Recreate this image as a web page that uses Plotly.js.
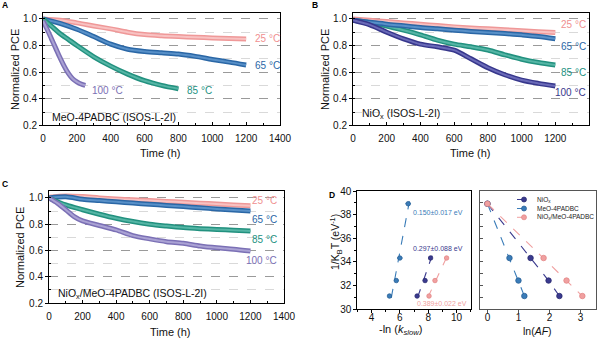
<!DOCTYPE html>
<html><head><meta charset="utf-8">
<script src="https://cdn.plot.ly/plotly-3.0.1.min.js"></script>
<style>html,body{margin:0;padding:0;background:#fff}#c{width:600px;height:339px}</style>
</head><body><div id="c"></div>
<script>
// ---------- data ----------
// Panel A : MeO-4PADBC
const A_t = [0,100,200,300,400,500,600,700,800,900,1000,1100,1200];
const A_25 = [1.0,0.99,0.97,0.947,0.925,0.9,0.882,0.873,0.867,0.862,0.857,0.853,0.848];
const A_65 = [1.0,0.967,0.922,0.867,0.81,0.772,0.755,0.745,0.736,0.718,0.695,0.675,0.653];
const A_t85 = [0,50,100,150,200,300,400,500,600,700,800];
const A_85 = [1.0,0.945,0.89,0.845,0.80,0.715,0.645,0.585,0.535,0.50,0.474];
const A_t100 = [0,25,50,75,100,125,150,175,200,225,250];
const A_100 = [0.985,0.92,0.85,0.78,0.71,0.645,0.59,0.55,0.527,0.51,0.50];
// Panel B : NiOx
const B_t = [0,100,200,300,400,500,600,700,800,900,1000,1100,1200];
const B_25 = [1.0,0.99,0.98,0.97,0.96,0.95,0.94,0.932,0.925,0.918,0.91,0.903,0.897];
const B_65 = [0.99,0.975,0.96,0.948,0.935,0.925,0.915,0.906,0.898,0.89,0.88,0.868,0.85];
const B_85 = [0.99,0.972,0.947,0.915,0.88,0.84,0.81,0.79,0.766,0.73,0.697,0.672,0.653];
const B_100 = [0.99,0.955,0.90,0.85,0.81,0.79,0.765,0.70,0.633,0.58,0.54,0.515,0.495];
// Panel C : NiOx/MeO-4PADBC
const C_t = [0,100,200,300,400,500,600,700,800,900,1000,1100,1200];
const C_25 = [1.005,1.015,1.01,1.0,0.992,0.986,0.98,0.973,0.967,0.96,0.954,0.947,0.94];
const C_65 = [1.0,1.008,0.99,0.98,0.97,0.961,0.952,0.943,0.934,0.925,0.916,0.908,0.9];
const C_85 = [1.0,0.947,0.91,0.876,0.845,0.82,0.80,0.786,0.774,0.766,0.76,0.754,0.748];
const C_t100 = [0,50,100,150,200,300,400,500,600,700,800,900,1000,1100,1200];
const C_100 = [1.0,0.96,0.91,0.858,0.825,0.79,0.756,0.713,0.688,0.667,0.655,0.634,0.62,0.61,0.596];
// Panel D
const invKT = [38.92,34.32,32.41,31.10];      // 25, 65, 85, 100 °C
const lnk_MeO = [6.59,6.0,5.75,5.27];
const lnk_MeO_err = [0.2,0.2,0.16,0.1];
const invKT3 = [34.32,32.41,31.10];           // 65, 85, 100 °C
const lnk_NiO = [8.17,7.78,7.22];
const lnk_Both = [9.3,8.48,8.06];
const lnAF_NiO = [0,1.39,1.97,2.32];
const lnAF_MeO = [0,0.71,1.0,1.19];
const lnAF_Both = [0,1.81,2.55,3.06];
const Ea_labels = ['0.150±0.017 eV','0.297±0.088 eV','0.389±0.022 eV'];
const tempLabels = ['25 °C','65 °C','85 °C','100 °C'];
const legendNames = ['NiO<sub>x</sub>','MeO-4PADBC','NiO<sub>x</sub>/MeO-4PADBC'];

// ---------- styles ----------
const F = 'Arial, "Liberation Sans", sans-serif';
const COL = {
  pink:{o:'#ef9898',i:'#f8c2c2',t:'#f09090'},
  blue:{o:'#2a67a6',i:'#5890c8',t:'#2a67a6'},
  teal:{o:'#22917f',i:'#55b5a5',t:'#22917f'},
  lav:{o:'#7b70b5',i:'#aaa2d4',t:'#7b70b5'},
  navy:{o:'#37378c',i:'#6a6ab8',t:'#37378c'}
};
const traces = [];
function tube(x,y,c,xa,ya){
  traces.push({x:x,y:y,xaxis:xa,yaxis:ya,mode:'lines',line:{color:c.o,width:5,shape:'spline',smoothing:0.8},showlegend:false,hoverinfo:'skip'});
  traces.push({x:x,y:y,xaxis:xa,yaxis:ya,mode:'lines',line:{color:c.i,width:2,shape:'spline',smoothing:0.8},showlegend:false,hoverinfo:'skip'});
}
tube(A_t,A_25,COL.pink,'x','y'); tube(A_t,A_65,COL.blue,'x','y');
tube(A_t85,A_85,COL.teal,'x','y'); tube(A_t100,A_100,COL.lav,'x','y');
tube(B_t,B_25,COL.pink,'x2','y2'); tube(B_t,B_85,COL.teal,'x2','y2');
tube(B_t,B_65,COL.blue,'x2','y2'); tube(B_t,B_100,COL.navy,'x2','y2');
tube(C_t,C_25,COL.pink,'x3','y3'); tube(C_t,C_65,COL.blue,'x3','y3');
tube(C_t,C_85,COL.teal,'x3','y3'); tube(C_t100,C_100,COL.lav,'x3','y3');

// D left: regression lines x = a + b*y
function fitLine(xs,ys){
  const n=xs.length, my=ys.reduce((s,v)=>s+v,0)/n, mx=xs.reduce((s,v)=>s+v,0)/n;
  let sxy=0,syy=0; for(let i=0;i<n;i++){sxy+=(ys[i]-my)*(xs[i]-mx);syy+=(ys[i]-my)**2;}
  const b=sxy/syy, a=mx-b*my;
  const y0=Math.min(...ys)-0.15, y1=Math.max(...ys)+0.2;
  return {x:[a+b*y0,a+b*y1],y:[y0,y1]};
}
const DC = {navy:'#3a3a8e',blue:'#3a7cb8',pink:'#f0a0a0'};
const DO = {navy:'#2a2a70',blue:'#285f95',pink:'#e38585'};
[[lnk_MeO,invKT,'blue'],[lnk_NiO,invKT3,'navy'],[lnk_Both,invKT3,'pink']].forEach(([xs,ys,k])=>{
  const f=fitLine(xs,ys);
  traces.push({x:f.x,y:f.y,xaxis:'x4',yaxis:'y4',mode:'lines',line:{color:DC[k],width:1.1,dash:'dash'},showlegend:false,hoverinfo:'skip'});
});
traces.push({x:lnk_MeO,y:invKT,xaxis:'x4',yaxis:'y4',mode:'markers',
  error_x:{type:'data',array:lnk_MeO_err,color:DC.blue,thickness:1,width:0},
  marker:{size:4.5,color:DC.blue,line:{color:DO.blue,width:0.8}},showlegend:false});
traces.push({x:lnk_NiO,y:invKT3,xaxis:'x4',yaxis:'y4',mode:'markers',marker:{size:4.5,color:DC.navy,line:{color:DO.navy,width:0.8}},showlegend:false});
traces.push({x:lnk_Both,y:invKT3,xaxis:'x4',yaxis:'y4',mode:'markers',marker:{size:4.5,color:DC.pink,line:{color:DO.pink,width:0.8}},showlegend:false});
// D right
const Dkeys=['navy','blue','pink'];
[lnAF_NiO,lnAF_MeO,lnAF_Both].forEach((xs,i)=>{
  const k=Dkeys[i];
  traces.push({x:xs,y:invKT,xaxis:'x5',yaxis:'y5',mode:'lines+markers',name:legendNames[i],showlegend:false,
    line:{color:DC[k],width:1.1,dash:'dash'},marker:{size:5.5,color:DC[k],line:{color:DO[k],width:0.8}}});
});

// ---------- layout ----------
const W=600,H=339;
const px=(a,b)=>[a/W,b/W], py=(top,bot)=>[1-bot/H,1-top/H];
const tickF={family:F,size:10,color:'#111'};
function timeX(dom,anchor){
  return {domain:dom,anchor:anchor,range:[0,1400],dtick:200,tick0:0,ticks:'inside',ticklen:3.5,tickcolor:'#000',ticklabelstandoff:4,
    minor:{dtick:100,ticks:'inside',ticklen:2,tickcolor:'#000'},
    showline:true,mirror:true,linecolor:'#000',linewidth:1,showgrid:false,zeroline:false,tickfont:tickF,fixedrange:true};
}
function pceY(dom,anchor,top){
  return {domain:dom,anchor:anchor,range:[0.2,top],tick0:0.2,dtick:0.2,ticks:'outside',ticklen:3,tickcolor:'#000',
    tickformat:'.1f',showgrid:true,gridcolor:'#8a8a8a',griddash:'dash',gridwidth:0.8,
    minor:{dtick:0.1,tick0:0.2,ticks:'inside',ticklen:2,tickcolor:'#000',showgrid:true,gridcolor:'#cfcfcf',griddash:'dash',gridwidth:0.8},
    showline:true,mirror:true,linecolor:'#000',linewidth:1,zeroline:false,tickfont:tickF,fixedrange:true};
}
const layout = {
  width:W,height:H,margin:{l:0,r:0,t:0,b:0},paper_bgcolor:'#fff',plot_bgcolor:'rgba(0,0,0,0)',
  font:{family:F,size:10,color:'#111'},showlegend:false,
  xaxis:timeX(px(43,280),'y'), yaxis:pceY(py(13.3,125.3),'x',1.042),
  xaxis2:timeX(px(353,589),'y2'), yaxis2:pceY(py(13.3,125.3),'x2',1.042),
  xaxis3:timeX(px(49,284),'y3'), yaxis3:pceY(py(190.7,303),'x3',1.055),
  xaxis4:{domain:px(357.3,470.7),anchor:'y4',range:[3,11],dtick:2,ticks:'outside',ticklen:3,tickcolor:'#000',ticklabelstandoff:-4,
    minor:{dtick:1,ticks:'outside',ticklen:2,tickcolor:'#000'},
    showline:true,mirror:true,linecolor:'#000',linewidth:1,showgrid:false,zeroline:false,tickfont:tickF},
  yaxis4:{domain:py(191,309),anchor:'x4',range:[30,40],dtick:2,ticks:'outside',ticklen:3,tickcolor:'#000',
    minor:{dtick:1,ticks:'outside',ticklen:2,tickcolor:'#000'},
    showline:true,mirror:true,linecolor:'#000',linewidth:1,showgrid:false,zeroline:false,tickfont:tickF},
  xaxis5:{domain:px(480,596),anchor:'y5',range:[-0.24,3.5],dtick:1,ticks:'outside',ticklen:3,tickcolor:'#555',ticklabelstandoff:-4,
    showline:true,mirror:true,linecolor:'#555',linewidth:1.3,showgrid:false,zeroline:false,tickfont:tickF},
  yaxis5:{domain:py(191,309),anchor:'x5',range:[30,40],dtick:1,ticks:'inside',ticklen:3,tickcolor:'#555',showticklabels:false,
    showline:true,mirror:true,linecolor:'#555',linewidth:1.3,showgrid:false,zeroline:false},
  annotations:[], shapes:[]
};
const ann=layout.annotations;
function pTxt(text,x,y,o){ann.push(Object.assign({text:text,x:x/W,y:1-y/H,xref:'paper',yref:'paper',xanchor:'center',yanchor:'middle',showarrow:false,font:{family:F,size:11,color:'#111'}},o||{}));}
function dTxt(text,x,y,xa,ya,color,o){ann.push(Object.assign({text:text,x:x,y:y,xref:xa,yref:ya,yanchor:'middle',showarrow:false,font:{family:F,size:10,color:color}},o||{}));}
// panel letters
const LF={family:F,size:8.5,color:'#000'};
pTxt('<b>A</b>',4.5,5.5,{font:LF});
pTxt('<b>B</b>',315,5.5,{font:LF});
pTxt('<b>C</b>',4.5,184.5,{font:LF});
pTxt('<b>D</b>',332,195,{font:LF});
// axis titles
pTxt('Normalized PCE',15,70,{textangle:-90});
pTxt('Normalized PCE',325,70,{textangle:-90});
pTxt('Normalized PCE',20,248,{textangle:-90});
pTxt('Time (h)',160,153);
pTxt('Time (h)',470,153);
pTxt('Time (h)',170,332);
pTxt('1/K<sub>B</sub>T (eV<sup>-1</sup>)',336,242,{textangle:-90,font:{family:F,size:10.5,color:'#111'}});
pTxt('-ln (<i>k</i><sub><i>slow</i></sub>)',401,330);
pTxt('ln(<i>AF</i>)',537,331,{font:{family:F,size:10.5,color:'#111'}});
// panel A labels
dTxt(tempLabels[0],1240,0.849,'x','y',COL.pink.t,{xanchor:'left'});
dTxt(tempLabels[1],1240,0.653,'x','y',COL.blue.t,{xanchor:'left'});
dTxt(tempLabels[2],839,0.459,'x','y',COL.teal.t,{xanchor:'left'});
dTxt(tempLabels[3],278,0.459,'x','y',COL.lav.t,{xanchor:'left'});
dTxt('MeO-4PADBC (ISOS-L-2I)',40,0.263,'x','y','#111',{xanchor:'left',font:{family:F,size:10.5,color:'#111'}});
// panel B labels
dTxt(tempLabels[0],1392,0.955,'x2','y2',COL.pink.t,{xanchor:'right'});
dTxt(tempLabels[1],1392,0.79,'x2','y2',COL.blue.t,{xanchor:'right'});
dTxt(tempLabels[2],1392,0.595,'x2','y2',COL.teal.t,{xanchor:'right'});
dTxt(tempLabels[3],1392,0.444,'x2','y2',COL.navy.t,{xanchor:'right'});
dTxt('NiO<sub>x</sub> (ISOS-L-2I)',40,0.288,'x2','y2','#111',{xanchor:'left',font:{family:F,size:10.5,color:'#111'}});
// panel C labels
dTxt(tempLabels[0],1372,0.977,'x3','y3',COL.pink.t,{xanchor:'right'});
dTxt(tempLabels[1],1372,0.832,'x3','y3',COL.blue.t,{xanchor:'right'});
dTxt(tempLabels[2],1372,0.68,'x3','y3',COL.teal.t,{xanchor:'right'});
dTxt(tempLabels[3],1372,0.52,'x3','y3',COL.lav.t,{xanchor:'right'});
dTxt('NiO<sub>x</sub>/MeO-4PADBC (ISOS-L-2I)',40,0.27,'x3','y3','#111',{xanchor:'left',font:{family:F,size:10.5,color:'#111'}});
// panel D Ea labels
dTxt(Ea_labels[0],6.82,38.14,'x4','y4',DC.blue,{xanchor:'left',font:{family:F,size:7,color:DC.blue}});
dTxt(Ea_labels[1],6.78,35.1,'x4','y4',DC.navy,{xanchor:'left',font:{family:F,size:7,color:DC.navy}});
dTxt(Ea_labels[2],7.05,30.5,'x4','y4',DC.pink,{xanchor:'left',font:{family:F,size:7,color:DC.pink}});
// hand-built compact legend (glyph positions are layout, in paper pixels)
const legY=[199.5,208.5,217.3];
Dkeys.forEach((k,i)=>{
  const y=1-legY[i]/H;
  layout.shapes.push({type:'line',xref:'paper',yref:'paper',x0:517/W,x1:531/W,y0:y,y1:y,line:{color:DC[k],width:1,dash:'dash'}});
  layout.shapes.push({type:'circle',xref:'paper',yref:'paper',x0:521.5/W,x1:526.5/W,y0:y-2.5/H,y1:y+2.5/H,fillcolor:DC[k],line:{color:DO[k],width:0.7}});
  ann.push({text:legendNames[i],x:535/W,y:y,xref:'paper',yref:'paper',xanchor:'left',yanchor:'middle',showarrow:false,font:{family:F,size:6.5,color:'#222'}});
});

Plotly.newPlot('c',traces,layout,{staticPlot:true,displayModeBar:false});
</script></body></html>
